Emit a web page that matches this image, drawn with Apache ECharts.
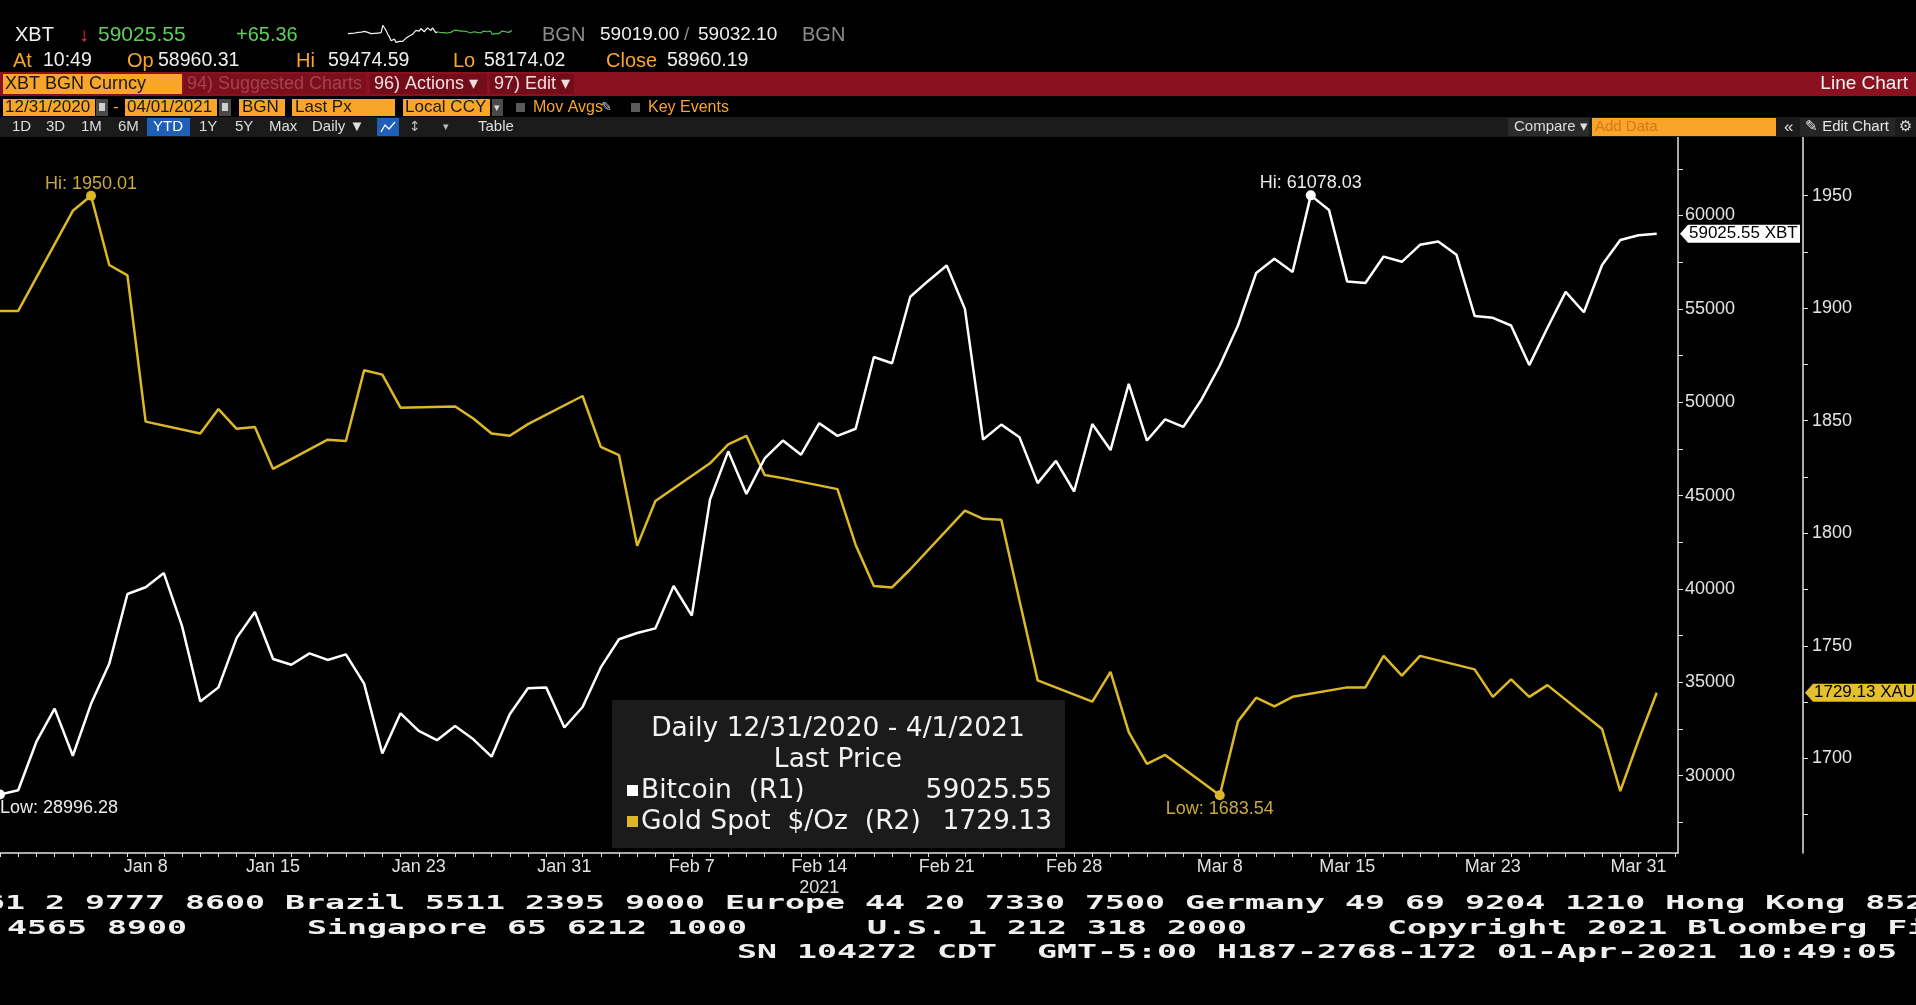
<!DOCTYPE html>
<html><head><meta charset="utf-8">
<script src="https://cdn.jsdelivr.net/npm/echarts@6.0.0/dist/echarts.min.js"></script>
<style>html,body{margin:0;padding:0;background:#000;overflow:hidden}#c{width:1916px;height:1005px}</style>
</head><body><div id="c"></div>
<script>
// ---------------- DATA ----------------
const startDate = '2020-12-31';           // first daily Bitcoin close
const endDate = '2021-04-01';
// Bitcoin (XBT) daily, one value per calendar day from 2020-12-31
const btcValues = [28996.28, 29220, 31820, 33590, 31070, 33850, 35990, 39730, 40090, 40850,
  38010, 33970, 34730, 37380, 38770, 36250, 35940, 36550, 36200, 36500,
  34930, 31190, 33340, 32400, 31900, 32660, 31950, 31020, 33290, 34680,
  34730, 32580, 33680, 35800, 37310, 37640, 37890, 40160, 38570, 44790,
  47370, 45090, 46990, 47950, 47190, 48880, 48200, 48580, 52420, 52090,
  55650, 56510, 57320, 55000, 48000, 48800, 48120, 45670, 46860, 45220,
  48830, 47440, 50980, 47950, 49080, 48680, 50150, 51960, 54110, 56920,
  57680, 56970, 61078.03, 60300, 56460, 56390, 57800, 57520, 58430, 58610,
  57900, 54620, 54520, 54110, 51990, 53990, 55910, 54820, 57350, 58690,
  58940, 59025.55];
// Gold spot trading days
const goldDates = ['2020-12-31','2021-01-01','2021-01-04','2021-01-05','2021-01-06','2021-01-07','2021-01-08',
  '2021-01-11','2021-01-12','2021-01-13','2021-01-14','2021-01-15','2021-01-18','2021-01-19','2021-01-20',
  '2021-01-21','2021-01-22','2021-01-25','2021-01-26','2021-01-27','2021-01-28','2021-01-29','2021-02-01',
  '2021-02-02','2021-02-03','2021-02-04','2021-02-05','2021-02-08','2021-02-09','2021-02-10','2021-02-11',
  '2021-02-12','2021-02-15','2021-02-16','2021-02-17','2021-02-18','2021-02-19','2021-02-22','2021-02-23',
  '2021-02-24','2021-02-25','2021-02-26','2021-03-01','2021-03-02','2021-03-03','2021-03-04','2021-03-05',
  '2021-03-08','2021-03-09','2021-03-10','2021-03-11','2021-03-12','2021-03-15','2021-03-16','2021-03-17',
  '2021-03-18','2021-03-19','2021-03-22','2021-03-23','2021-03-24','2021-03-25','2021-03-26','2021-03-29',
  '2021-03-30','2021-03-31','2021-04-01'];
const goldValues = [1898.8, 1898.8, 1943.3, 1950.01, 1919.2, 1914.6, 1849.6,
  1844.3, 1855.2, 1846.4, 1847.2, 1828.6, 1841.6, 1841.0, 1872.4,
  1870.5, 1855.8, 1856.3, 1851.0, 1844.3, 1843.3, 1848.5, 1861.0,
  1838.4, 1834.7, 1794.4, 1814.3, 1831.1, 1839.5, 1843.3, 1825.9,
  1824.5, 1819.6, 1794.8, 1776.6, 1775.9, 1784.0, 1810.1, 1806.4,
  1806.0, 1770.0, 1734.6, 1725.2, 1738.4, 1711.6, 1697.5, 1701.5,
  1683.54, 1716.4, 1726.9, 1723.1, 1727.3, 1731.5, 1731.5, 1745.5,
  1736.7, 1745.5, 1739.5, 1727.3, 1735.1, 1727.3, 1732.5, 1713.0,
  1685.4, 1708.0, 1729.13];
// x-axis labelled dates
const xLabelDates = ['2021-01-08','2021-01-15','2021-01-23','2021-01-31','2021-02-07','2021-02-14',
  '2021-02-21','2021-02-28','2021-03-08','2021-03-15','2021-03-23','2021-03-31'];
const yearLabelDate = '2021-02-14';
// right axes
const btcTickLabels = [30000, 35000, 40000, 45000, 50000, 55000, 60000];
const btcMinorTicks = [27500, 32500, 37500, 42500, 47500, 52500, 57500, 62500];
const goldTickLabels = [1700, 1750, 1800, 1850, 1900, 1950];
const goldMinorTicks = [1675, 1725, 1775, 1825, 1875, 1925];
// intraday sparkline in header (relative levels)
const sparkWhite = [12,13,13,14,14,15,16,18,17,17,19,20,16,13,12,13,13,13,14,14,15,38,40,22,10,2,-10,-12,-5,-15,-18,-12,-10,-12,-8,-2,-5,5,2,10,15,22,25,20,28,22,18,24,30,28,22,30,25,15,18];
const sparkGreen = [18,15,18,15,12,14,13,16,18,22,20,22,18,20,22,20,15,18,16,14,16,18,15,16,17,14,15,20,24,18,14,20,10,8,12,13,12,18,20,16,18,20,16,20,22];
const btcName = 'Bitcoin', goldName = 'Gold Spot  $/Oz';

// ---------------- HELPERS ----------------
const DAY = 86400000;
function ts(s){ const p = s.split('-').map(Number); return Date.UTC(p[0], p[1]-1, p[2]); }
const T0 = ts(startDate);
function dayOf(s){ return Math.round((ts(s) - T0) / DAY); }
const MON = ['Jan','Feb','Mar','Apr','May','Jun','Jul','Aug','Sep','Oct','Nov','Dec'];
const X_MIN = 0, X_MAX = dayOf(endDate) + 1.17;
const btcData = btcValues.map((v, i) => [i, v]);
const goldData = goldDates.map((d, i) => [dayOf(d), goldValues[i]]);
const dailyTicks = []; for (let d = 0; d <= X_MAX; d++) dailyTicks.push(d);
const btcLast = btcValues[btcValues.length - 1], goldLast = goldValues[goldValues.length - 1];
const sparkAll = sparkWhite.length + sparkGreen.length;
const sparkCats = Array.from({length: sparkAll}, (_, i) => i);
const sparkW = sparkCats.map(i => i < sparkWhite.length ? sparkWhite[i] : null);
const sparkG = sparkCats.map(i => i === sparkWhite.length - 1 ? sparkWhite[i] : (i >= sparkWhite.length ? sparkGreen[i - sparkWhite.length] : null));

const FS = '"Liberation Sans", Arial, sans-serif';
const FV = '"DejaVu Sans", Verdana, sans-serif';
const FM = '"DejaVu Sans Mono", monospace';
const ORANGE = '#f8a52a', GOLD = '#dcb826', GOLDTXT = '#cba83e';
const AXC = '#e2e2e2';

const G = [];
function R(x, y, w, h, fill, extra) { G.push(Object.assign({type:'rect', z:20, shape:{x, y, width:w, height:h}, style:{fill}}, extra||{})); }
function T(text, x, y, fill, size, o) {
  o = o || {};
  const el = {type:'text', z:21, x, y, style:{text, fill, fontFamily:o.font||FS, fontSize:size, fontWeight:o.weight||'normal', align:o.align||'left', verticalAlign:'middle'}};
  if (o.scaleX) { el.scaleX = o.scaleX; }
  G.push(el);
}

// ---- header row 1 ----
T('XBT', 15, 35, '#f0f0f0', 20);
T('\u2193', 79, 35, '#e8323a', 20);
T(btcLast.toFixed(2), 98, 35, '#5fcf5a', 21);
T('+65.36', 236, 35, '#5fcf5a', 20);
T('BGN', 542, 35, '#8c8c8c', 20);
T('59019.00', 600, 35, '#efefef', 19);
T('/', 684, 35, '#8c8c8c', 19);
T('59032.10', 698, 35, '#efefef', 19);
T('BGN', 802, 35, '#8c8c8c', 20);
// ---- header row 2 ----
[['At',13,'10:49',43],['Op',127,'58960.31',158],['Hi',296,'59474.59',328],['Lo',453,'58174.02',484],['Close',606,'58960.19',667]]
  .forEach(a => { T(a[0], a[1], 61, ORANGE, 20); T(a[2], a[3], 61, '#efefef', 19.5); });
// ---- red bar ----
R(0, 72, 1916, 24, '#8a1120');
R(3, 74, 179, 20, ORANGE); T('XBT BGN Curncy', 5, 84, '#1a1a1a', 18);
R(184, 74, 182, 20, '#7c0f1c'); T('94) Suggested Charts', 187, 84, '#a4434e', 18);
R(370, 74, 117, 20, '#730d19'); T('96) Actions \u25BE', 374, 84, '#f3dede', 18);
R(490, 74, 84, 20, '#730d19'); T('97) Edit \u25BE', 494, 84, '#f3dede', 18);
T('Line Chart', 1908, 84, '#f5f5f5', 19, {align:'right'});
// ---- date row ----
R(3, 99, 92, 17, ORANGE); T('12/31/2020', 5, 107.5, '#1a1a1a', 17);
R(96, 99, 12, 17, '#4a4a4a'); R(99, 103, 6, 8, '#cfcfcf');
T('-', 113, 107.5, ORANGE, 17);
R(125, 99, 92, 17, ORANGE); T('04/01/2021', 127, 107.5, '#1a1a1a', 17);
R(219, 99, 12, 17, '#4a4a4a'); R(222, 103, 6, 8, '#cfcfcf');
R(239, 99, 46, 17, ORANGE); T('BGN', 242, 107.5, '#1a1a1a', 17);
R(292, 99, 103, 17, ORANGE); T('Last Px', 295, 107.5, '#1a1a1a', 17);
R(403, 99, 87, 17, ORANGE); T('Local CCY', 405, 107.5, '#1a1a1a', 17);
R(492, 99, 11, 17, '#4a4a4a'); T('\u25BE', 494, 107.5, '#dddddd', 11);
R(516, 103, 9, 9, '#5a5a5a'); T('Mov Avgs', 533, 107.5, ORANGE, 16);
T('\u270E', 601, 107.5, '#cfcfcf', 13, {font:FV});
R(631, 103, 9, 9, '#5a5a5a'); T('Key Events', 648, 107.5, ORANGE, 16);
// ---- toolbar row ----
R(0, 117, 1916, 20, '#1b1b1b');
[['1D',12],['3D',46],['1M',81],['6M',118]].forEach(a => T(a[0], a[1], 127, '#dedede', 15));
R(147, 118, 43, 18, '#1f5fb8'); T('YTD', 153, 127, '#ffffff', 15);
[['1Y',199],['5Y',235],['Max',269],['Daily \u25BC',312]].forEach(a => T(a[0], a[1], 127, '#dedede', 15));
R(377, 118, 22, 18, '#1f5fb8');
G.push({type:'polyline', z:22, shape:{points:[[381,132],[385,125],[389,129],[395,122]]}, style:{stroke:'#ffffff', lineWidth:1.3, fill:null}});
T('\u2195', 409, 127, '#bdbdbd', 14, {font:FV});
T('\u25BE', 443, 127, '#bdbdbd', 11);
T('Table', 478, 127, '#dedede', 15);
R(1508, 118, 81, 18, '#2b2b2b'); T('Compare \u25BE', 1514, 127, '#dedede', 15);
R(1592, 118, 184, 18, ORANGE); T('Add Data', 1595, 127, '#d8781a', 15);
T('\u00AB', 1784, 127, '#dedede', 17);
R(1800, 118, 95, 18, '#262626'); T('\u270E Edit Chart', 1805, 127, '#e6e6e6', 15);
T('\u2699', 1899, 127, '#dedede', 15, {font:FV});
// ---- legend box ----
R(612, 700, 453, 148, '#1b1b1b', {z:5});
T('Daily 12/31/2020 - 4/1/2021', 838, 729, '#f2f2f2', 26.5, {font:FV, align:'center'});
T('Last Price', 838, 760, '#f2f2f2', 26.5, {font:FV, align:'center'});
R(627, 785, 11, 11, '#ffffff');
T(btcName + '  (R1)', 641, 791, '#f2f2f2', 26.5, {font:FV});
T(btcLast.toFixed(2), 1052, 791, '#f2f2f2', 26.5, {font:FV, align:'right'});
R(627, 816, 11, 11, GOLD);
T(goldName + '  (R2)', 641, 822, '#f2f2f2', 26.5, {font:FV});
T(goldLast.toFixed(2), 1052, 822, '#f2f2f2', 26.5, {font:FV, align:'right'});
// ---- footer ----
const FX = 20 / (20 * 0.602);
T('61 2 9777 8600 Brazil 5511 2395 9000 Europe 44 20 7330 7500 Germany 49 69 9204 1210 Hong Kong 852 2977 6000', -15, 904, '#f0f0f0', 20, {font:FM, weight:'bold', scaleX:FX});
T('4565 8900      Singapore 65 6212 1000      U.S. 1 212 318 2000       Copyright 2021 Bloomberg Finance L.P.', 7, 929, '#f0f0f0', 20, {font:FM, weight:'bold', scaleX:FX});
T('SN 104272 CDT  GMT-5:00 H187-2768-172 01-Apr-2021 10:49:05', 737, 953, '#f0f0f0', 20, {font:FM, weight:'bold', scaleX:FX});

function fmtDay(v) {
  const d = new Date(T0 + Math.round(v) * DAY);
  const s = MON[d.getUTCMonth()] + ' ' + d.getUTCDate();
  return Math.round(v) === dayOf(yearLabelDate) ? s + '\n' + d.getUTCFullYear() : s;
}
const plain = v => String(v);
const markLabel = (color) => ({color, fontFamily:FS, fontSize:18});

const option = {
  backgroundColor: '#000',
  animation: false,
  grid: [
    {left:0, right:238, top:137, bottom:1005-853, outerBoundsMode:'none', containLabel:false},
    {left:348, top:24, width:164, height:20, outerBoundsMode:'none', containLabel:false}
  ],
  xAxis: [
    {type:'value', gridIndex:0, min:X_MIN, max:X_MAX,
     axisLine:{show:true, onZero:false, lineStyle:{color:AXC, width:1.5}},
     axisTick:{show:true, customValues:dailyTicks, length:4, lineStyle:{color:AXC, width:1}},
     axisLabel:{show:true, customValues:xLabelDates.map(dayOf), formatter:fmtDay, color:'#e0e0e0', fontFamily:FS, fontSize:18, margin:4, lineHeight:21, hideOverlap:false},
     splitLine:{show:false}, minorTick:{show:false}},
    {type:'category', gridIndex:1, show:false, boundaryGap:false, data:sparkCats}
  ],
  yAxis: [
    {type:'value', gridIndex:0, position:'right', offset:0, min:25861, max:64204,
     axisLine:{show:true, onZero:false, lineStyle:{color:AXC, width:1.5}},
     axisTick:{show:true, customValues:btcMinorTicks.concat(btcTickLabels), length:5, lineStyle:{color:AXC}},
     axisLabel:{show:true, customValues:btcTickLabels, formatter:plain, color:'#e4e4e4', fontFamily:FS, fontSize:18, margin:7},
     splitLine:{show:false}},
    {type:'value', gridIndex:0, position:'right', offset:125, min:1657.9, max:1976.1,
     axisLine:{show:true, onZero:false, lineStyle:{color:AXC, width:1.5}},
     axisTick:{show:true, customValues:goldMinorTicks.concat(goldTickLabels), length:5, lineStyle:{color:AXC}},
     axisLabel:{show:true, customValues:goldTickLabels, formatter:plain, color:'#e4e4e4', fontFamily:FS, fontSize:18, margin:9},
     splitLine:{show:false}},
    {type:'value', gridIndex:1, show:false, min:-20, max:42}
  ],
  series: [
    {name:goldName, type:'line', xAxisIndex:0, yAxisIndex:1, data:goldData, showSymbol:false, z:3,
     lineStyle:{color:GOLD, width:2.5}, itemStyle:{color:GOLD}, emphasis:{disabled:true},
     markPoint:{symbol:'circle', symbolSize:10, itemStyle:{color:GOLD}, emphasis:{disabled:true},
       data:[
         {type:'max', label:Object.assign(markLabel(GOLDTXT), {position:'top', distance:-2, formatter:p => 'Hi: ' + Number(p.value).toFixed(2)})},
         {type:'min', label:Object.assign(markLabel(GOLDTXT), {position:'bottom', distance:0, formatter:p => 'Low: ' + Number(p.value).toFixed(2)})}
       ]}},
    {name:btcName, type:'line', xAxisIndex:0, yAxisIndex:0, data:btcData, showSymbol:false, z:4,
     lineStyle:{color:'#ffffff', width:2.5}, itemStyle:{color:'#ffffff'}, emphasis:{disabled:true},
     markPoint:{symbol:'circle', symbolSize:10, itemStyle:{color:'#ffffff'}, emphasis:{disabled:true},
       data:[
         {type:'max', label:Object.assign(markLabel('#ececec'), {position:'top', distance:-2, formatter:p => 'Hi: ' + Number(p.value).toFixed(2)})},
         {type:'min', label:Object.assign(markLabel('#ececec'), {position:'bottom', align:'left', distance:0, formatter:p => 'Low: ' + Number(p.value).toFixed(2)})}
       ]}},
    {type:'line', xAxisIndex:1, yAxisIndex:2, data:sparkW, showSymbol:false, lineStyle:{color:'#f4f4f4', width:1.2}, emphasis:{disabled:true}},
    {type:'line', xAxisIndex:1, yAxisIndex:2, data:sparkG, showSymbol:false, lineStyle:{color:'#4cc24a', width:1.2}, emphasis:{disabled:true}}
  ]
};

const chart = echarts.init(document.getElementById('c'), null, {renderer:'canvas', width:1916, height:1005});
chart.setOption(option);

// value tags on the right axes, placed through the chart's own scales
const xR = chart.convertToPixel({xAxisIndex:0}, X_MAX);
const yB = chart.convertToPixel({yAxisIndex:0}, btcLast);
const yG = chart.convertToPixel({yAxisIndex:1}, goldLast);
function tag(x0, y, x1, fill, text) {
  G.push({type:'polygon', z:25, shape:{points:[[x0 + 2, y], [x0 + 10, y - 9], [x1, y - 9], [x1, y + 9], [x0 + 10, y + 9]]}, style:{fill}});
  G.push({type:'text', z:26, x:x0 + 11, y:y, style:{text, fill:'#000', fontFamily:FS, fontSize:17, verticalAlign:'middle'}});
}
tag(xR, yB, xR + 122, '#ffffff', btcLast.toFixed(2) + ' XBT');
tag(xR + 125, yG, 1916, '#e4c02a', goldLast.toFixed(2) + ' XAU');
chart.setOption({graphic:{elements:G}});
</script></body></html>
